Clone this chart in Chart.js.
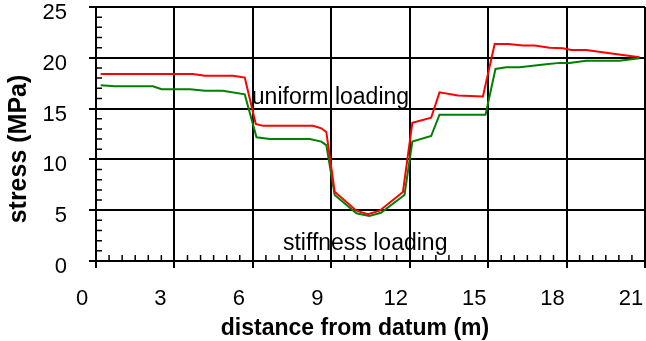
<!DOCTYPE html>
<html>
<head>
<meta charset="utf-8">
<title>stress along the beam</title>
<script src="https://cdn.jsdelivr.net/npm/chart.js@4/dist/chart.umd.min.js"></script>
<style>
    html, body { margin: 0; padding: 0; background: #fff; }
    #wrap { width: 646px; height: 341px; }
</style>
</head>
<body>
<div id="wrap"><canvas id="stress-chart"></canvas></div>
<script>
// Uniform loading (red)
const uniformDist = [0.18, 3.7, 4.17, 5.24, 5.69, 6.11, 6.39, 8.3, 8.62, 8.81, 9.13, 9.96, 10.4, 10.85, 11.74, 12.1, 12.82, 13.14, 13.84, 14.8, 15.25, 15.76, 16.33, 16.78, 17.35, 17.86, 18.18, 18.75, 19.51, 20.79];
const uniformStress = [18.4, 18.4, 18.24, 18.24, 18.05, 13.5, 13.3, 13.3, 13.06, 12.7, 6.82, 4.95, 4.6, 4.95, 6.8, 13.6, 14.1, 16.6, 16.3, 16.2, 21.36, 21.36, 21.2, 21.2, 21.0, 20.94, 20.77, 20.77, 20.5, 20.05];

// Stiffness loading (green)
const stiffDist = [0.18, 0.73, 2.18, 2.51, 3.6, 4.17, 4.85, 5.69, 6.14, 6.65, 8.18, 8.62, 8.81, 9.13, 9.96, 10.45, 10.9, 11.8, 12.1, 12.82, 13.14, 14.9, 15.28, 15.69, 16.2, 17.22, 17.73, 18.11, 18.75, 20.02, 20.79];
const stiffStress = [17.3, 17.2, 17.2, 16.9, 16.9, 16.76, 16.76, 16.4, 12.17, 12.0, 12.0, 11.75, 11.4, 6.5, 4.7, 4.43, 4.75, 6.5, 11.75, 12.3, 14.4, 14.4, 18.9, 19.06, 19.06, 19.36, 19.5, 19.5, 19.7, 19.7, 19.95];

// Axis ticks
const xTicks = [0, 3, 6, 9, 12, 15, 18, 21];
const yTicks = [0, 5, 10, 15, 20, 25];
const xMinorStep = 0.5;
const yMinorStep = 1;

const FONT = '"Liberation Sans", Arial, Helvetica, sans-serif';

function toPoints(xs, ys) {
    return xs.map((x, i) => ({ x: x, y: ys[i] }));
}

// Minor ticks, annotation texts and axis titles
const extrasPlugin = {
    id: 'extras',
    afterDraw(chart) {
        const ctx = chart.ctx;
        const xs = chart.scales.x;
        const ys = chart.scales.y;
        const area = chart.chartArea;

        ctx.save();
        ctx.strokeStyle = '#000';
        ctx.lineWidth = 1.5;
        ctx.beginPath();
        for (let v = xs.min; v <= xs.max + 1e-9; v += xMinorStep) {
            if (xTicks.includes(Math.round(v * 10) / 10)) continue;
            const px = xs.getPixelForValue(v);
            ctx.moveTo(px, area.bottom);
            ctx.lineTo(px, area.bottom - 6);
        }
        for (let v = ys.min; v <= ys.max + 1e-9; v += yMinorStep) {
            if (yTicks.includes(v)) continue;
            const py = ys.getPixelForValue(v);
            ctx.moveTo(area.left, py);
            ctx.lineTo(area.left + 6, py);
        }
        ctx.stroke();

        // Annotations
        ctx.fillStyle = '#000';
        ctx.font = '23px ' + FONT;
        ctx.textAlign = 'left';
        ctx.textBaseline = 'alphabetic';
        ctx.fillText('uniform loading', xs.getPixelForValue(5.96), ys.getPixelForValue(15.45));
        ctx.fillText('stiffness loading', xs.getPixelForValue(7.15), ys.getPixelForValue(1.08));

        // Axis titles
        ctx.font = 'bold 23px ' + FONT;
        ctx.textAlign = 'center';
        ctx.fillText('distance from datum (m)', 355, 335);

        ctx.translate(19, 149);
        ctx.rotate(-Math.PI / 2);
        ctx.font = 'bold 25px ' + FONT;
        ctx.textBaseline = 'middle';
        ctx.fillText('stress (MPa)', 0, 0);
        ctx.restore();
    }
};

const canvas = document.getElementById('stress-chart');
const stressChart = new Chart(canvas, {
    type: 'line',
    data: {
        datasets: [{
            label: 'uniform loading',
            data: toPoints(uniformDist, uniformStress),
            borderColor: '#ff0000',
            borderWidth: 2,
            pointRadius: 0,
            tension: 0,
            fill: false
        }, {
            label: 'stiffness loading',
            data: toPoints(stiffDist, stiffStress),
            borderColor: '#008000',
            borderWidth: 2,
            pointRadius: 0,
            tension: 0,
            fill: false
        }]
    },
    options: {
        responsive: true,
        maintainAspectRatio: false,
        animation: false,
        layout: {
            padding: { left: 2, top: 7, right: 1, bottom: 0 }
        },
        plugins: {
            legend: { display: false },
            tooltip: { enabled: false }
        },
        scales: {
            x: {
                type: 'linear',
                min: 0,
                max: 21,
                afterFit: function (scale) {
                    scale.height = 80;
                    // labels are shifted left, so no extra room is needed at the ends
                    scale.paddingLeft = 0;
                    scale.paddingRight = 0;
                },
                afterBuildTicks: function (scale) {
                    scale.ticks = xTicks.map(v => ({ value: v }));
                },
                ticks: {
                    color: '#000',
                    font: { family: FONT, size: 22 },
                    padding: 18,
                    labelOffset: -14,
                    maxRotation: 0
                },
                grid: { color: '#000', lineWidth: 2, tickLength: 7 },
                border: { display: true, color: '#000', width: 2 }
            },
            y: {
                type: 'linear',
                min: 0,
                max: 25,
                afterFit: function (scale) {
                    scale.width = 94;
                    scale.paddingTop = 0;
                    scale.paddingBottom = 0;
                },
                afterBuildTicks: function (scale) {
                    scale.ticks = yTicks.map(v => ({ value: v }));
                },
                ticks: {
                    color: '#000',
                    font: { family: FONT, size: 22 },
                    padding: 22,
                    labelOffset: 6
                },
                grid: { color: '#000', lineWidth: 2, tickLength: 7 },
                border: { display: true, color: '#000', width: 2 }
            }
        }
    },
    plugins: [extrasPlugin]
});
</script>
</body>
</html>
